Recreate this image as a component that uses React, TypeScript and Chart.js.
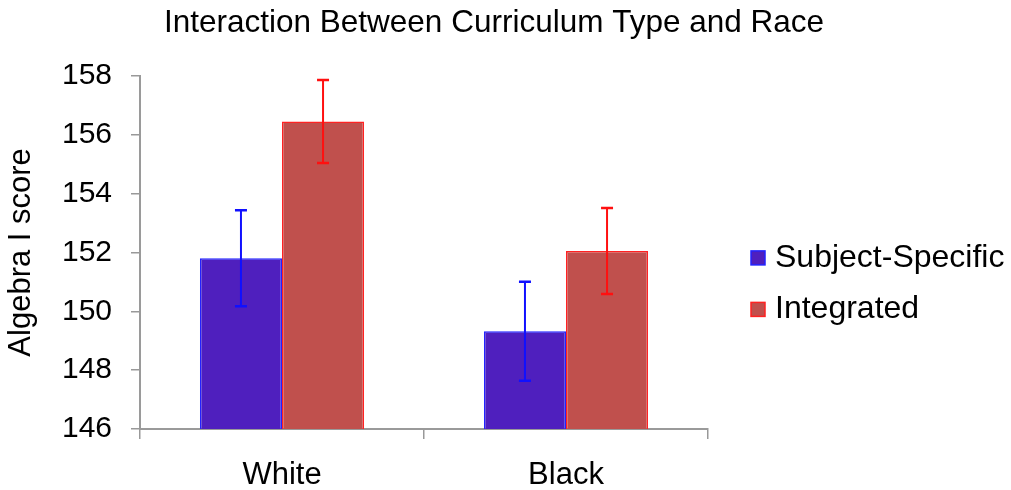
import React, { useEffect, useRef } from 'react';
import { Chart, registerables } from 'chart.js';

Chart.register(...registerables);

const chartTitle = 'Interaction Between Curriculum Type and Race';
const yAxisTitle = 'Algebra I score';
const categories = ['White', 'Black'];
const seriesLabels = ['Subject-Specific', 'Integrated'];
const subjectSpecificValues = [151.8, 149.32];
const integratedValues = [156.45, 152.05];
const subjectSpecificErrors = [1.63, 1.68];
const integratedErrors = [1.41, 1.46];
const yMin = 146;
const yMax = 158;
const yStep = 2;

const FONT = "'Liberation Sans', Arial, sans-serif";

const errorBarPlugin = {
  id: 'errorBars',
  afterDatasetsDraw(chart: any) {
    const ctx = chart.ctx;
    const yScale = chart.scales.y;
    chart.data.datasets.forEach((ds: any, di: number) => {
      const meta = chart.getDatasetMeta(di);
      if (meta.hidden) return;
      const errs = ds.errors || [];
      meta.data.forEach((bar: any, i: number) => {
        const v = ds.data[i];
        const e = errs[i];
        if (e == null) return;
        const x = bar.x;
        const yTop = yScale.getPixelForValue(v + e);
        const yBot = yScale.getPixelForValue(v - e);
        ctx.save();
        ctx.strokeStyle = ds.errorColor;
        ctx.lineWidth = 2;
        ctx.beginPath();
        ctx.moveTo(x, yTop);
        ctx.lineTo(x, yBot);
        ctx.stroke();
        ctx.lineWidth = 2.5;
        ctx.beginPath();
        ctx.moveTo(x - 6, yTop);
        ctx.lineTo(x + 6, yTop);
        ctx.moveTo(x - 6, yBot);
        ctx.lineTo(x + 6, yBot);
        ctx.stroke();
        ctx.restore();
      });
    });
  },
};

const sideLegendPlugin = {
  id: 'sideLegend',
  afterDraw(chart: any) {
    const { ctx, chartArea } = chart;
    const x0 = chartArea.right + 43;
    const yc = (chartArea.top + chartArea.bottom) / 2;
    chart.data.datasets.forEach((ds: any, i: number) => {
      const y = yc + 5.5 + i * 51.5;
      ctx.save();
      ctx.fillStyle = ds.backgroundColor;
      ctx.strokeStyle = ds.borderColor;
      ctx.lineWidth = 1.5;
      ctx.fillRect(x0, y - 7, 14, 14);
      ctx.strokeRect(x0, y - 7, 14, 14);
      ctx.fillStyle = '#000';
      ctx.font = `32px ${FONT}`;
      ctx.textBaseline = 'middle';
      ctx.textAlign = 'left';
      ctx.fillText(ds.label, x0 + 24, y);
      ctx.restore();
    });
  },
};

export default function App() {
  const canvasRef = useRef<HTMLCanvasElement | null>(null);

  useEffect(() => {
    if (!canvasRef.current) return;
    const chart = new Chart(canvasRef.current, {
      type: 'bar',
      data: {
        labels: categories,
        datasets: [
          {
            label: seriesLabels[0],
            data: subjectSpecificValues,
            errors: subjectSpecificErrors,
            errorColor: '#1010FF',
            backgroundColor: '#4F1FBE',
            borderColor: '#2222FF',
            borderWidth: 1.5,
            categoryPercentage: 0.578,
            barPercentage: 1.0,
          } as any,
          {
            label: seriesLabels[1],
            data: integratedValues,
            errors: integratedErrors,
            errorColor: '#FF1010',
            backgroundColor: '#C0504D',
            borderColor: '#FF2222',
            borderWidth: 1.5,
            categoryPercentage: 0.578,
            barPercentage: 1.0,
          } as any,
        ],
      },
      options: {
        responsive: false,
        animation: false,
        layout: { padding: { left: 0, right: 23, top: 0, bottom: 0 } },
        plugins: {
          legend: { display: false },
          tooltip: { enabled: false },
          title: {
            display: true,
            text: chartTitle,
            color: '#000',
            font: { family: FONT, size: 31.5, weight: 'normal' },
            padding: { top: 4, bottom: 34 },
          },
        },
        scales: {
          x: {
            type: 'category',
            offset: true,
            grid: {
              display: true,
              drawOnChartArea: false,
              offset: true,
              tickLength: 10,
              color: '#999',
              lineWidth: 1.5,
            },
            border: { display: true, color: '#9a9a9a', width: 2 },
            ticks: {
              color: '#000',
              font: { family: FONT, size: 31 },
              padding: 18,
            },
            afterFit: (s: any) => {
              s.height = 61;
            },
          },
          y: {
            type: 'linear',
            position: 'left',
            min: yMin,
            max: yMax,
            ticks: {
              stepSize: yStep,
              color: '#000',
              font: { family: FONT, size: 30 },
              padding: 19,
            },
            grid: {
              display: true,
              drawOnChartArea: false,
              tickLength: 9,
              color: '#999',
              lineWidth: 1.5,
            },
            border: { display: true, color: '#9a9a9a', width: 2 },
            title: {
              display: true,
              text: yAxisTitle,
              color: '#000',
              font: { family: FONT, size: 31 },
              padding: { top: 3, bottom: 0 },
            },
            afterFit: (s: any) => {
              s.width = 140;
            },
          },
          legendSpace: {
            type: 'linear',
            position: 'right',
            display: true,
            grid: { display: false },
            ticks: { display: false },
            border: { display: false },
            afterFit: (s: any) => {
              s.width = 280;
            },
          },
        },
      } as any,
      plugins: [errorBarPlugin, sideLegendPlugin],
    });
    return () => chart.destroy();
  }, []);

  return (
    <div style={{ position: 'absolute', left: 0, top: 0, width: 1011, height: 490, background: '#fff' }}>
      <canvas ref={canvasRef} width={1011} height={490} style={{ display: 'block' }} />
    </div>
  );
}
